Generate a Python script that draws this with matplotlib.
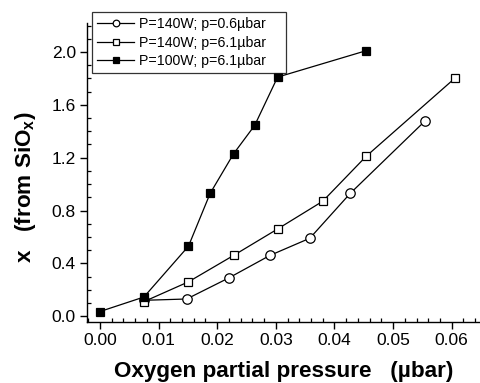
import numpy as np
import matplotlib
matplotlib.use("Agg")
from matplotlib import pyplot as plt
from matplotlib.ticker import MultipleLocator, FormatStrFormatter

plt.rcParams['font.family'] = ['Liberation Sans', 'DejaVu Sans']
plt.rcParams['mathtext.fontset'] = 'custom'
plt.rcParams['mathtext.rm'] = 'Liberation Sans'
plt.rcParams['mathtext.bf'] = 'Liberation Sans:bold'

# oxygen partial pressure (ubar) and x in SiOx for each deposition condition
p_140_06 = [0.0075, 0.0148, 0.0220, 0.0290, 0.0358, 0.0427, 0.0555]
x_140_06 = [0.12, 0.13, 0.29, 0.46, 0.59, 0.93, 1.48]

p_140_61 = [0.0075, 0.0151, 0.0228, 0.0303, 0.0380, 0.0454, 0.0605]
x_140_61 = [0.11, 0.26, 0.46, 0.66, 0.87, 1.21, 1.80]

p_100_61 = [0.0, 0.0075, 0.0151, 0.0188, 0.0228, 0.0264, 0.0303, 0.0454]
x_100_61 = [0.035, 0.145, 0.53, 0.93, 1.23, 1.445, 1.81, 2.01]

labels = ["P=140W; p=0.6\u00b5bar", "P=140W; p=6.1\u00b5bar", "P=100W; p=6.1\u00b5bar"]

fig = plt.figure(figsize=(4.81, 3.83), dpi=100)
ax = fig.add_axes([0.181, 0.159, 0.819, 0.781])

ax.plot(p_140_06, x_140_06, color="black", lw=0.9, marker="o", ms=6.8,
        mfc="white", mec="black", mew=0.9, label=labels[0] + "    ")
ax.plot(p_140_61, x_140_61, color="black", lw=0.9, marker="s", ms=5.4,
        mfc="white", mec="black", mew=0.9, label=labels[1] + "    ")
ax.plot(p_100_61, x_100_61, color="black", lw=0.9, marker="s", ms=5.6,
        mfc="black", mec="black", mew=0.9, label=labels[2] + "    ")

ax.set_xlim(-0.0022, 0.065)
ax.set_ylim(-0.045, 2.22)
ax.xaxis.set_major_locator(MultipleLocator(0.01))
ax.xaxis.set_minor_locator(MultipleLocator(0.002))
ax.yaxis.set_major_locator(MultipleLocator(0.4))
ax.yaxis.set_minor_locator(MultipleLocator(0.1))
ax.xaxis.set_major_formatter(FormatStrFormatter("%.2f"))
ax.yaxis.set_major_formatter(FormatStrFormatter("%.1f"))

for side in ["top", "right"]:
    ax.spines[side].set_visible(False)
for side in ["left", "bottom"]:
    ax.spines[side].set_linewidth(1.0)

ax.tick_params(which="major", direction="out", length=5, width=1.0,
               labelsize=12.5, pad=3)
ax.tick_params(which="minor", direction="in", length=3, width=0.9)

ax.set_xlabel("Oxygen partial pressure   (\u00b5bar)", fontsize=16.2,
              fontweight="bold")
ax.xaxis.set_label_coords(0.5, -0.13)
ax.set_ylabel("x   (from SiO$_\\mathbf{x}$)", fontsize=16.2,
              fontweight="bold")
ax.yaxis.set_label_coords(-0.125, 0.45)

leg = ax.legend(loc="upper left", bbox_to_anchor=(0.013, 1.037), fontsize=10.2,
                frameon=True, fancybox=False, edgecolor="black",
                handlelength=2.6, handletextpad=0.35, borderpad=0.35,
                labelspacing=0.33, borderaxespad=0, markerscale=0.7)
leg.get_frame().set_linewidth(0.9)

fig.savefig("out.png", dpi=100)
